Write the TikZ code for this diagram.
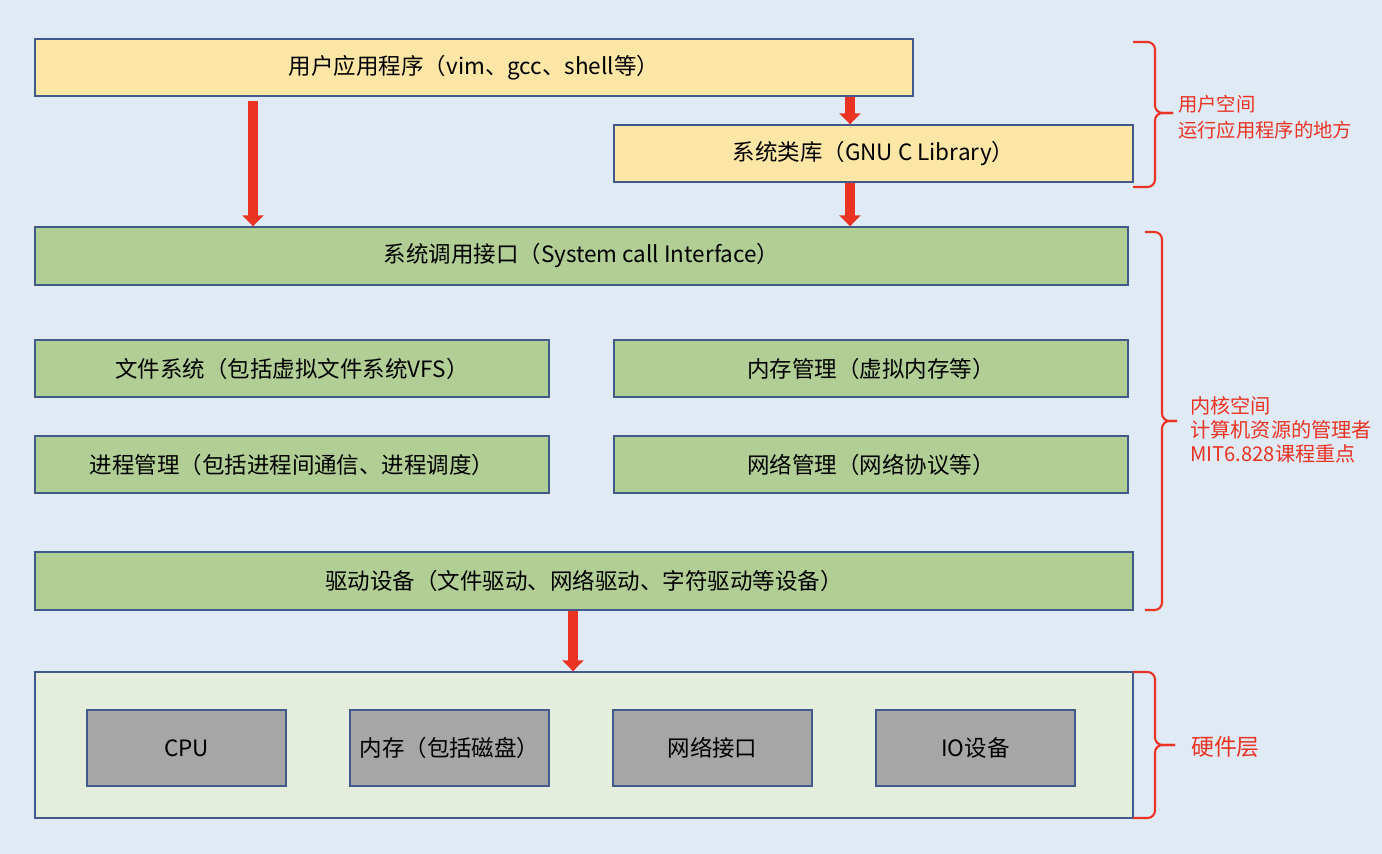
\documentclass[tikz,border=0pt]{standalone}
\usepackage{fontspec}
\setmainfont{Noto Sans CJK SC}
\usetikzlibrary{arrows.meta}
\definecolor{bgblue}{HTML}{DFEAF5}
\definecolor{boxline}{HTML}{41598B}
\definecolor{userfill}{HTML}{FCE6A6}
\definecolor{kernfill}{HTML}{B1CE95}
\definecolor{hwfill}{HTML}{E5EEDC}
\definecolor{devfill}{HTML}{A6A6A6}
\definecolor{arrred}{HTML}{EA3323}
\begin{document}
\begin{tikzpicture}[x=0.02cm,y=-0.02cm,
  box/.style={draw=boxline,line width=0.8pt,minimum height=1.14cm,inner sep=0pt,font=\fontsize{12.8}{15}\selectfont},
  user/.style={box,fill=userfill},
  kern/.style={box,fill=kernfill},
  dev/.style={box,fill=devfill,minimum width=3.98cm,minimum height=1.52cm},
  arr/.style={-{Triangle[width=0.42cm,length=0.22cm]},line width=0.2cm,draw=arrred},
  brc/.style={draw=arrred,line width=1.2pt,rounded corners=0.15cm},
  note/.style={anchor=west,align=left,text=arrred,font=\fontsize{11}{14.7}\selectfont}]
\fill[bgblue] (0,0) rectangle (1382,854);
\useasboundingbox (0,0) rectangle (1382,854);
% user space
\node[user,minimum width=17.56cm] (app) at (474,67.5) {用户应用程序（vim、gcc、shell等）};
\node[user,minimum width=10.38cm] (lib) at (873.5,153.5) {系统类库（GNU C Library）};
% kernel space
\node[kern,minimum width=21.86cm,minimum height=1.16cm] (sci) at (581.5,256) {系统调用接口（System call Interface）};
\node[kern,minimum width=10.28cm] (fs) at (292,368.5) {文件系统（包括虚拟文件系统VFS）};
\node[kern,minimum width=10.28cm] (mm) at (871,368.5) {内存管理（虚拟内存等）};
\node[kern,minimum width=10.28cm] (pm) at (292,464.5) {进程管理（包括进程间通信、进程调度）};
\node[kern,minimum width=10.28cm] (net) at (871,464.5) {网络管理（网络协议等）};
\node[kern,minimum width=21.96cm,minimum height=1.16cm] (drv) at (584,581) {驱动设备（文件驱动、网络驱动、字符驱动等设备）};
% hardware
\node[box,fill=hwfill,minimum width=21.96cm,minimum height=2.92cm] (hw) at (584,745) {};
\node[dev] (cpu) at (186.5,748) {CPU};
\node[dev] (ram) at (449.5,748) {内存（包括磁盘）};
\node[dev] (nic) at (712.5,748) {网络接口};
\node[dev] (io) at (975.5,748) {IO设备};
% arrows
\coordinate (c1) at (253,0);
\coordinate (c2) at (850,0);
\coordinate (c3) at (573,0);
\draw[arr] ([yshift=-0.08cm]app.south -| c1) -- (sci.north -| c1);
\draw[arr] (app.south -| c2) -- (lib.north -| c2);
\draw[arr] (lib.south -| c2) -- (sci.north -| c2);
\draw[arr] (drv.south -| c3) -- (hw.north -| c3);
% braces
\draw[brc] (1133,42) -- (1155,42) -- (1155,113) -- (1173,113);
\draw[brc] (1173,113) -- (1155,113) -- (1155,187) -- (1133,187);
\draw[brc] (1145,232) -- (1162,232) -- (1162,421) -- (1177,421);
\draw[brc] (1177,421) -- (1162,421) -- (1162,610) -- (1145,610);
\draw[brc] (1133,672) -- (1155,672) -- (1155,745) -- (1175,745);
\draw[brc] (1175,745) -- (1155,745) -- (1155,818) -- (1133,818);
\node[note] (ulab) at (1172,117) {用户空间\\运行应用程序的地方};
\node[note,font=\fontsize{11.5}{13.6}\selectfont] (klab) at (1184,430) {内核空间\\计算机资源的管理者\\MIT6.828课程重点};
\node[note,font=\fontsize{13}{16}\selectfont] (hlab) at (1185,747) {硬件层};
\end{tikzpicture}
\end{document}
